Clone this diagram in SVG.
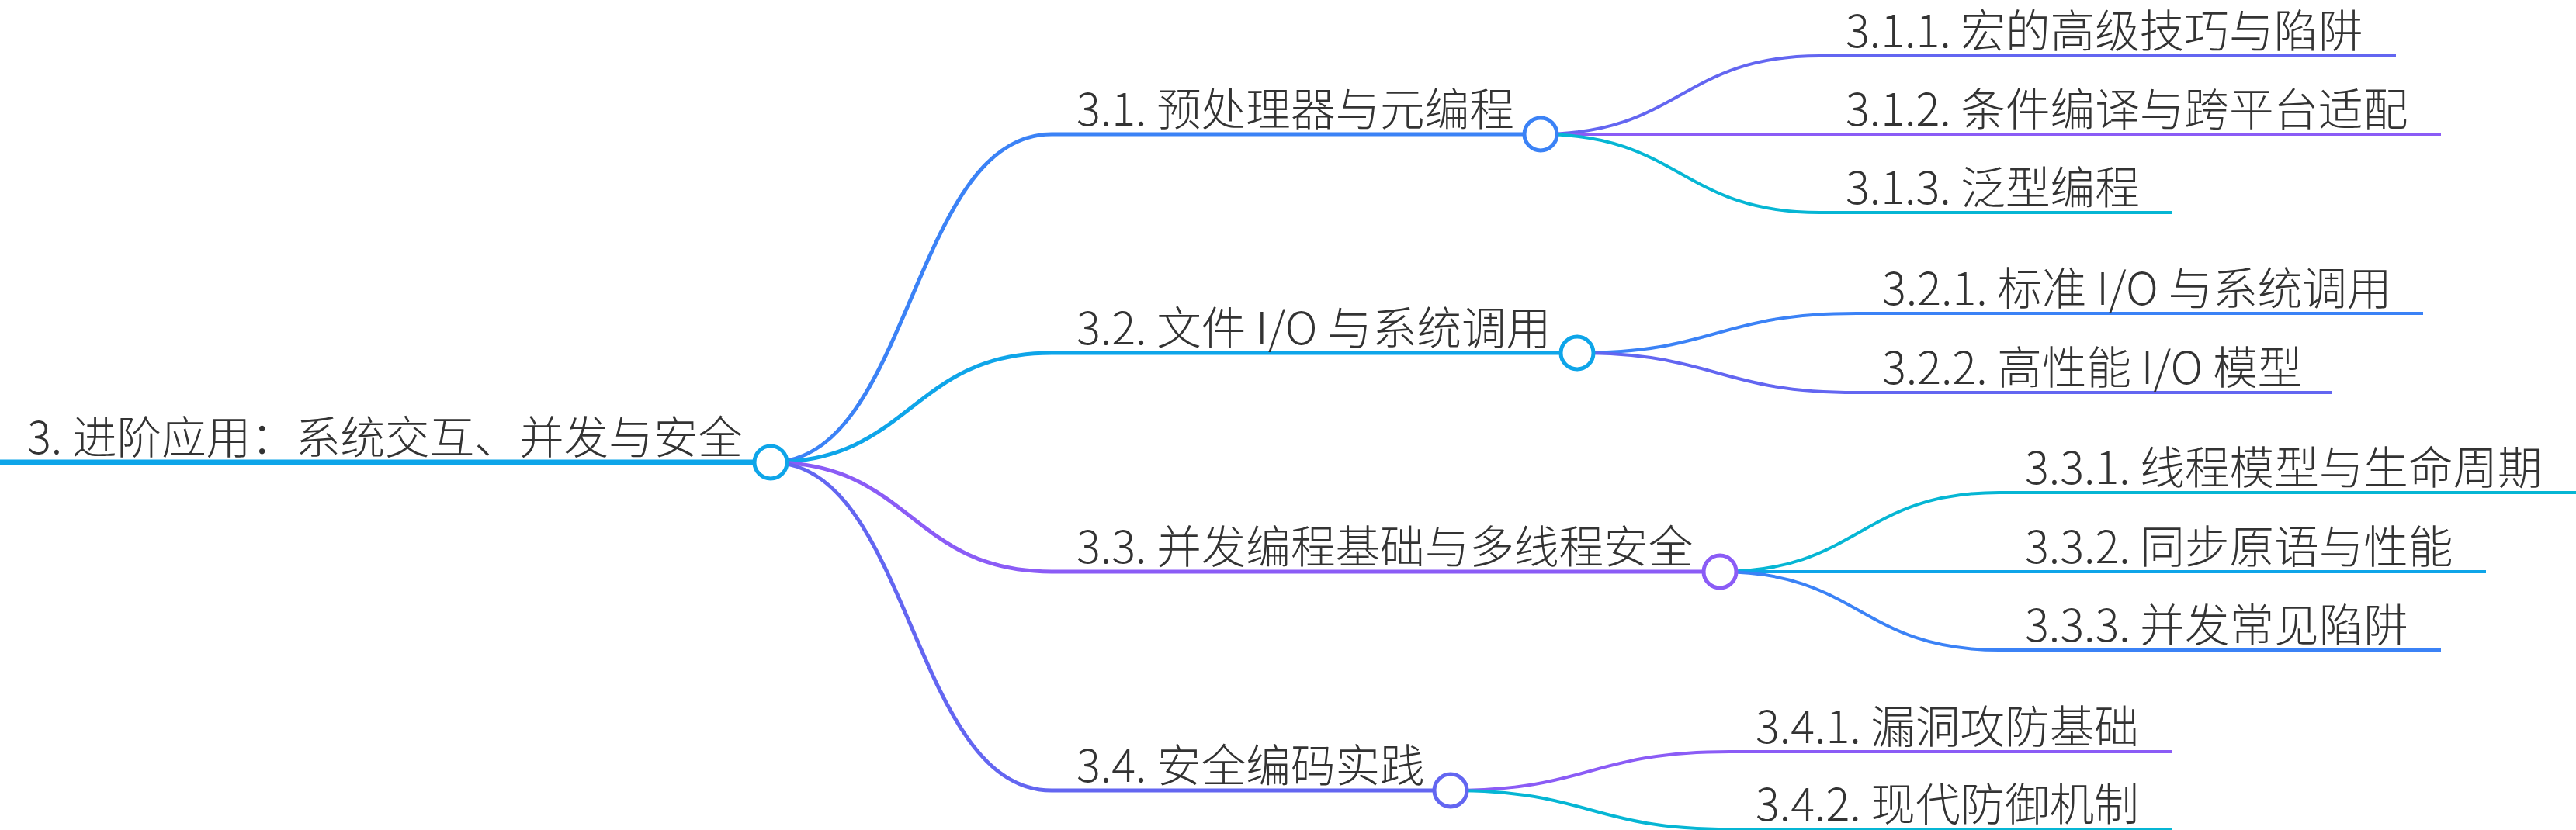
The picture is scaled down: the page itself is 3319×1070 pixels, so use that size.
<svg xmlns="http://www.w3.org/2000/svg" width="3319" height="1070" viewBox="0 0 3319 1070">
<style>
.t{font-family:"Noto Sans CJK SC","Noto Sans",sans-serif;font-size:57.6px;font-weight:300;fill:#333333}
.c{fill:none}
.w0{stroke-width:7}
.w1{stroke-width:5}
.w2{stroke-width:4}
.dot{fill:#ffffff;stroke-width:5}
.blue{stroke:#3b82f6}
.sky{stroke:#0ea5e9}
.violet{stroke:#8b5cf6}
.indigo{stroke:#6366f1}
.cyan{stroke:#06b6d4}
</style>
<rect width="3319" height="1070" fill="#ffffff"/>
<g id="connectors" class="c">
<path class="w1 blue" d="M993,596 C1174,596 1174,173 1355,173"/>
<path class="w1 sky" d="M993,596 C1174,596 1174,455 1355,455"/>
<path class="w1 violet" d="M993,596 C1174,596 1174,737 1355,737"/>
<path class="w1 indigo" d="M993,596 C1174,596 1174,1019 1355,1019"/>
<path class="w2 indigo" d="M1985,173 C2165,173 2165,72 2345,72"/>
<path class="w2 violet" d="M1985,173 L2345,173"/>
<path class="w2 cyan" d="M1985,173 C2165,173 2165,274 2345,274"/>
<path class="w2 blue" d="M2032,455 C2212,455 2212,404 2392,404"/>
<path class="w2 indigo" d="M2032,455 C2212,455 2212,506 2392,506"/>
<path class="w2 cyan" d="M2216,737 C2396,737 2396,635 2576,635"/>
<path class="w2 sky" d="M2216,737 L2576,737"/>
<path class="w2 blue" d="M2216,737 C2396,737 2396,838 2576,838"/>
<path class="w2 violet" d="M1869,1019 C2049,1019 2049,969 2229,969"/>
<path class="w2 cyan" d="M1869,1019 C2049,1019 2049,1069 2229,1069"/>
</g>
<g id="root">
<path class="c w0 sky" d="M0,596 H993"/>
<text class="t" x="35" y="585">3. 进阶应用：系统交互、并发与安全</text>
<circle class="dot sky" cx="993" cy="596" r="21"/>
</g>
<g id="n3-1">
<path class="c w1 blue" d="M1355,173 H1985"/>
<text class="t" x="1387" y="162">3.1. 预处理器与元编程</text>
<circle class="dot blue" cx="1985" cy="173" r="21"/>
</g>
<g id="n3-1-1">
<path class="c w2 indigo" d="M2345,72 H3087"/>
<text class="t" x="2378" y="61">3.1.1. 宏的高级技巧与陷阱</text>
</g>
<g id="n3-1-2">
<path class="c w2 violet" d="M2345,173 H3145"/>
<text class="t" x="2378" y="162">3.1.2. 条件编译与跨平台适配</text>
</g>
<g id="n3-1-3">
<path class="c w2 cyan" d="M2345,274 H2798"/>
<text class="t" x="2378" y="263">3.1.3. 泛型编程</text>
</g>
<g id="n3-2">
<path class="c w1 sky" d="M1355,455 H2032"/>
<text class="t" x="1387" y="444">3.2. 文件 I/O 与系统调用</text>
<circle class="dot sky" cx="2032" cy="455" r="21"/>
</g>
<g id="n3-2-1">
<path class="c w2 blue" d="M2392,404 H3122"/>
<text class="t" x="2425" y="393">3.2.1. 标准 I/O 与系统调用</text>
</g>
<g id="n3-2-2">
<path class="c w2 indigo" d="M2392,506 H3004"/>
<text class="t" x="2425" y="495">3.2.2. 高性能 I/O 模型</text>
</g>
<g id="n3-3">
<path class="c w1 violet" d="M1355,737 H2216"/>
<text class="t" x="1387" y="726">3.3. 并发编程基础与多线程安全</text>
<circle class="dot violet" cx="2216" cy="737" r="21"/>
</g>
<g id="n3-3-1">
<path class="c w2 cyan" d="M2576,635 H3319"/>
<text class="t" x="2609" y="624">3.3.1. 线程模型与生命周期</text>
</g>
<g id="n3-3-2">
<path class="c w2 sky" d="M2576,737 H3203"/>
<text class="t" x="2609" y="726">3.3.2. 同步原语与性能</text>
</g>
<g id="n3-3-3">
<path class="c w2 blue" d="M2576,838 H3145"/>
<text class="t" x="2609" y="827">3.3.3. 并发常见陷阱</text>
</g>
<g id="n3-4">
<path class="c w1 indigo" d="M1355,1019 H1869"/>
<text class="t" x="1387" y="1008">3.4. 安全编码实践</text>
<circle class="dot indigo" cx="1869" cy="1019" r="21"/>
</g>
<g id="n3-4-1">
<path class="c w2 violet" d="M2229,969 H2798"/>
<text class="t" x="2262" y="958">3.4.1. 漏洞攻防基础</text>
</g>
<g id="n3-4-2">
<path class="c w2 cyan" d="M2229,1069 H2798"/>
<text class="t" x="2262" y="1058">3.4.2. 现代防御机制</text>
</g>
</svg>
